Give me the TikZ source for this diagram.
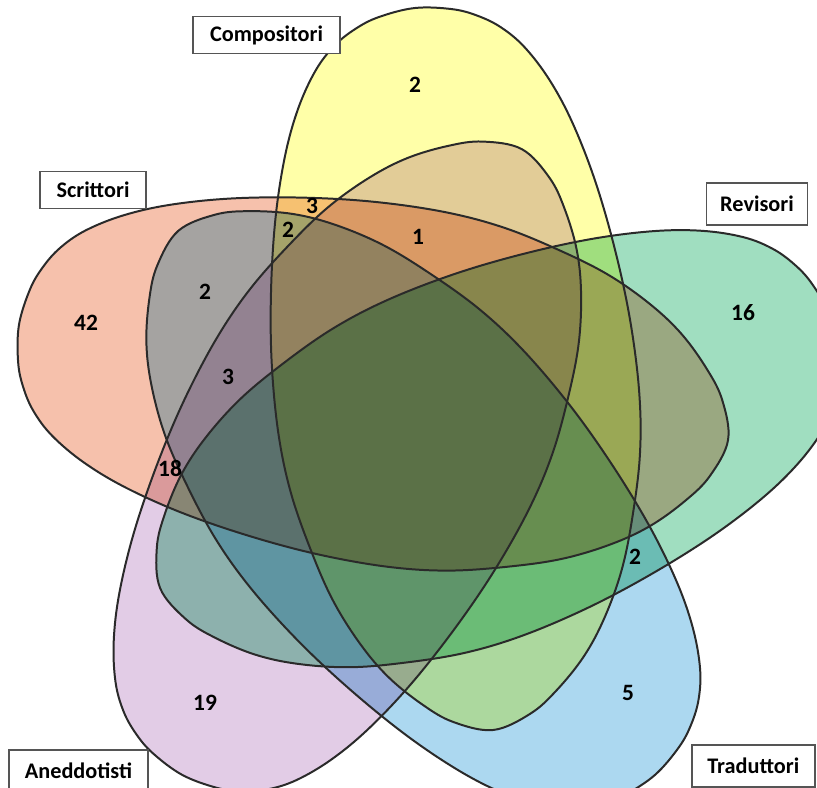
\documentclass[tikz,border=0pt]{standalone}
\usepackage{fontspec}
\setmainfont{Carlito}
\usepackage{xcolor}
\usepackage{tikz}

\definecolor{scrittori}{HTML}{F6C1AC}
\definecolor{compositori}{HTML}{FFFFA8}
\definecolor{revisori}{HTML}{A0DEC0}
\definecolor{traduttori}{HTML}{ACD8F0}
\definecolor{aneddotisti}{HTML}{E2CCE6}
\definecolor{rim}{HTML}{2A2A2A}
\definecolor{boxrim}{HTML}{555555}

\tikzset{
	egg/.pic={
		\path[pic actions] plot[smooth cycle, tension=0.6] coordinates {
			(-356,0) (-351,36) (-342,60) (-328,82) (-306,103) (-271,124) (-226,142)
			(-166,158) (-96,170) (-26,177) (44,178) (104,172) (164,158) (214,142)
			(259,120) (294,96) (324,66) (344,38) (356,0)
			(344,-38) (324,-66) (294,-96) (259,-120) (214,-142) (164,-158) (104,-172)
			(44,-178) (-26,-177) (-96,-170) (-166,-158) (-226,-142) (-271,-124)
			(-306,-103) (-328,-82) (-342,-60) (-351,-36)};
	},
	setname/.style={draw=boxrim, line width=1.3pt, fill=white, inner sep=0pt,
		font=\fontsize{19}{19}\selectfont\bfseries},
	tally/.style={inner sep=0pt, text=black, font=\fontsize{20}{20}\selectfont\bfseries}
}

\begin{document}
\begin{tikzpicture}[x=0.03cm, y=-0.03cm]
	\clip (0,0) rectangle (817,787);
	\fill[white] (0,0) rectangle (817,787);
	
	% eggs: centre / tilt / size / colour
	\foreach \x/\y/\a/\s/\c in {454/369/-83.8/1.020/compositori,
		373.5/382.5/-9.2/1.009/scrittori, 495/451.5/-157.8/1.016/revisori,
		352/462/61.5/1.0/aneddotisti, 416.5/503/131.2/1.016/traduttori}{
		\pic[rotate=\a, scale=\s, fill=\c, blend mode=multiply] at (\x,\y) {egg};
	}
	\foreach \x/\y/\a/\s in {454/369/-83.8/1.020, 373.5/382.5/-9.2/1.009,
		495/451.5/-157.8/1.016, 352/462/61.5/1.0, 416.5/503/131.2/1.016}{
		\pic[rotate=\a, scale=\s, draw=rim, line width=1.7pt] at (\x,\y) {egg};
	}
	
	% set names
	\node[setname, minimum width=4.41cm, minimum height=1.10cm] (compositori) at (266.5,35) {Compositori};
	\node[setname, minimum width=3.18cm, minimum height=1.10cm] (scrittori) at (93,190) {Scrittori};
	\node[setname, minimum width=3.02cm, minimum height=1.25cm] (revisori) at (757,204) {Revisori};
	\node[setname, minimum width=4.17cm, minimum height=1.26cm] (aneddotisti) at (78.5,771) {Aneddotisti};
	\node[setname, minimum width=3.69cm, minimum height=1.26cm] (traduttori) at (753.3,766) {Traduttori};
	
	% counts
	\foreach \x/\y/\t [count=\i] in {415/85/2, 312/206/3, 288/230/2, 418/237/1, 86/323/42,
		205/292/2, 228/377/3, 170/468/18, 743/313/16, 635/557/2, 628/693/5, 205/703/19}{
		\node[tally] (n\i) at (\x,\y) {\t};
	}
\end{tikzpicture}
\end{document}
